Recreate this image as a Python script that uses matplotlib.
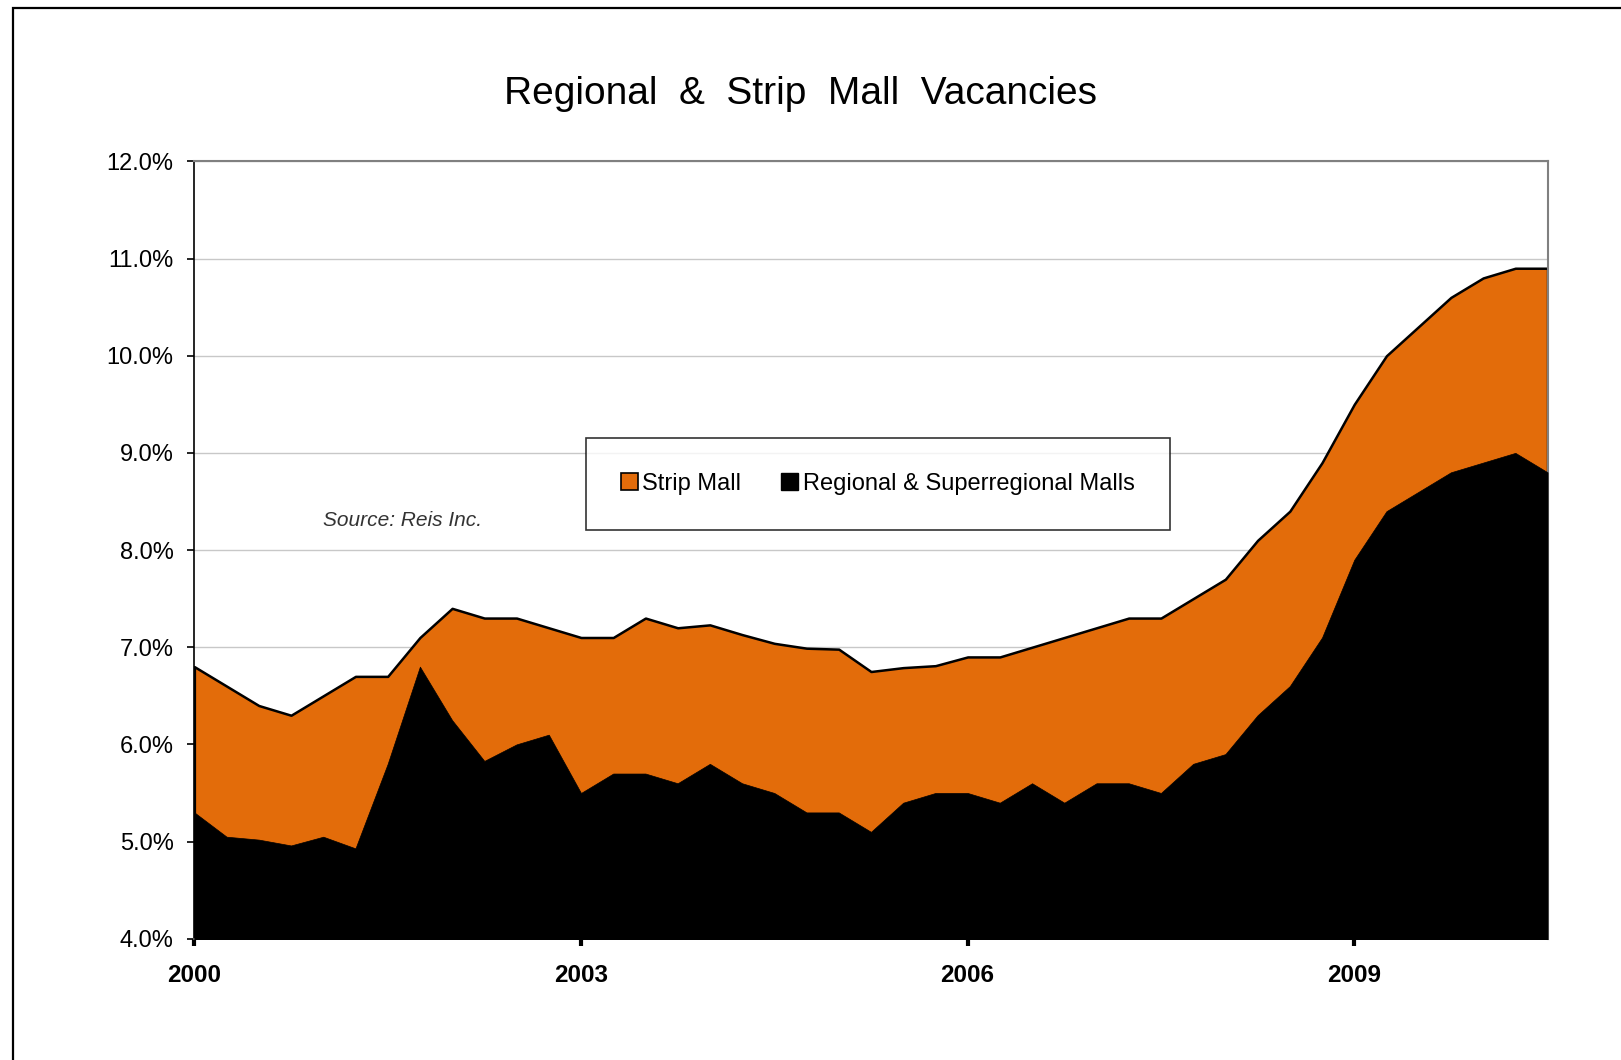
import numpy as np
import matplotlib
matplotlib.use("Agg")
import matplotlib.pyplot as plt
from matplotlib.patches import Rectangle, Patch
from matplotlib.ticker import FuncFormatter

plt.rcParams["font.family"] = ["Liberation Sans", "DejaVu Sans"]

# quarterly data, 2000 Q1 .. 2010 Q3
start_year = 2000
n_quarters = 43
quarters = start_year + np.arange(n_quarters) / 4.0

strip_mall = [6.8, 6.6, 6.4, 6.3, 6.5, 6.7, 6.7, 7.1, 7.4, 7.3, 7.3, 7.2,
              7.1, 7.1, 7.3, 7.2, 7.23, 7.13, 7.04, 6.99, 6.98, 6.75, 6.79, 6.81,
              6.9, 6.9, 7.0, 7.1, 7.2, 7.3, 7.3, 7.5, 7.7, 8.1, 8.4, 8.9,
              9.5, 10.0, 10.3, 10.6, 10.8, 10.9, 10.9]
regional = [5.3, 5.05, 5.02, 4.96, 5.05, 4.93, 5.8, 6.8, 6.25, 5.83, 6.0, 6.1,
            5.5, 5.7, 5.7, 5.6, 5.8, 5.6, 5.5, 5.3, 5.3, 5.1, 5.4, 5.5,
            5.5, 5.4, 5.6, 5.4, 5.6, 5.6, 5.5, 5.8, 5.9, 6.3, 6.6, 7.1,
            7.9, 8.4, 8.6, 8.8, 8.9, 9.0, 8.8]

year_ticks = [2000, 2003, 2006, 2009]
y_ticks = [4, 5, 6, 7, 8, 9, 10, 11, 12]

orange = "#E36C0A"

fig = plt.figure(figsize=(16.21, 10.60), dpi=100)
ax = fig.add_axes([0.1199, 0.1144, 0.8348, 0.7334])

ax.fill_between(quarters, 0, strip_mall, color=orange, edgecolor="black",
                linewidth=1.8, zorder=2)
ax.fill_between(quarters, 0, regional, color="black", edgecolor="black",
                linewidth=0.5, zorder=3)

ax.set_xlim(start_year, quarters[-1])
ax.set_ylim(4, 12)
ax.set_yticks(y_ticks)
ax.yaxis.set_major_formatter(FuncFormatter(lambda v, p: "%.1f%%" % v))
ax.set_xticks(year_ticks)
ax.set_xticklabels([str(y) for y in year_ticks], fontweight="bold", fontsize=17.5)

ax.grid(axis="y", color="#c8c8c8", linewidth=1.0, zorder=0)
ax.set_axisbelow(True)

for s in ["top", "right"]:
    ax.spines[s].set_color("#808080")
    ax.spines[s].set_linewidth(1.5)
ax.spines["left"].set_color("black")
ax.spines["left"].set_linewidth(1.2)
ax.spines["bottom"].set_color("#808080")
ax.spines["bottom"].set_linewidth(1.2)

ax.tick_params(axis="y", direction="out", length=5, width=1.2, pad=10,
               labelsize=17, colors="black")
ax.tick_params(axis="x", direction="out", length=5, width=3, pad=13,
               colors="black")

fig.text(0.494, 0.911, "Regional  &  Strip  Mall  Vacancies", ha="center",
         va="center", fontsize=28)

ax.text(0.095, 0.538, "Source: Reis Inc.", transform=ax.transAxes,
        fontsize=15, style="italic", color="#333333", ha="left", va="center")

handles = [Patch(facecolor=orange, edgecolor="black", linewidth=1.2),
           Patch(facecolor="black", edgecolor="black")]
leg = ax.legend(handles, ["Strip Mall", "Regional & Superregional Malls"],
                ncol=2, loc="center", bbox_to_anchor=(0.505, 0.585),
                fontsize=17, frameon=True, fancybox=False, handlelength=0.7,
                handleheight=0.7, handletextpad=0.2, columnspacing=1.7,
                borderpad=1.5, borderaxespad=0)
leg.get_frame().set_edgecolor("black")
leg.get_frame().set_linewidth(1.2)

# outer frame of the chart area
fig.patches.append(Rectangle((13.4 / 1621, -0.1), 1.2, 1.1 - 8.3 / 1060,
                             transform=fig.transFigure, fill=False,
                             edgecolor="black", linewidth=1.6))

fig.savefig("out.png", dpi=100)
